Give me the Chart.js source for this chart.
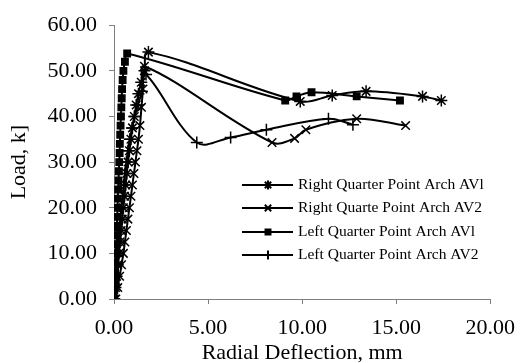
<!DOCTYPE html>
<html>
<head>
<meta charset="utf-8">
<script src="https://cdn.jsdelivr.net/npm/chart.js@4.4.1/dist/chart.umd.min.js"></script>
<style>
  html, body { margin: 0; padding: 0; background: #fff; }
  #wrap { width: 526px; height: 363px; }
</style>
</head>
<body>
<div id="wrap"><canvas id="myChart" width="526" height="363"></canvas></div>
<script>
// series (deflection mm, load kN)
const seriesNames = [
  "Right Quarter Point Arch AVl",
  "Right Quarte Point Arch AV2",
  "Left Quarter Point Arch AVl",
  "Left Quarter Point Arch AV2",
];

const rightAV1X = [0.02, 0.08, 0.14, 0.20, 0.26, 0.32, 0.38, 0.44, 0.50, 0.56, 0.62, 0.68, 0.75, 0.82, 0.90, 0.98, 1.08, 1.18, 1.30, 1.45, 1.62, 1.83, 9.90, 11.60, 13.40, 16.40, 17.40];
const rightAV1Y = [0, 2.5, 5, 7.5, 10, 12.5, 15, 17.5, 20, 22.5, 25, 27.5, 30, 32.5, 35, 37.5, 40, 42.5, 45, 47.5, 50, 54.1, 43.3, 44.6, 45.5, 44.4, 43.5];

const rightAV2X = [0.10, 0.20, 0.30, 0.40, 0.50, 0.58, 0.66, 0.74, 0.82, 0.90, 0.98, 1.06, 1.14, 1.22, 1.30, 1.38, 1.46, 1.54, 1.62, 8.40, 9.60, 10.20, 12.90, 15.50];
const rightAV2Y = [0, 2.5, 5, 7.5, 10, 12.5, 15, 17.5, 20, 22.5, 25, 27.5, 30, 32.5, 35, 38, 42, 46, 51.0, 34.3, 35.2, 37.1, 39.5, 38.0];

const leftAV1X = [0.00, 0.02, 0.04, 0.06, 0.08, 0.10, 0.12, 0.14, 0.15, 0.17, 0.19, 0.20, 0.22, 0.24, 0.26, 0.28, 0.30, 0.31, 0.33, 0.35, 0.37, 0.39, 0.41, 0.43, 0.46, 0.50, 0.58, 0.70, 9.10, 9.70, 10.50, 12.90, 15.20];
const leftAV1Y = [0, 2, 4, 6, 8, 10, 12, 14, 16, 18, 20, 22, 24, 26, 28, 30, 32, 34, 36, 38, 40, 42, 44, 46, 48, 50, 52, 53.8, 43.5, 44.4, 45.3, 44.4, 43.5];

const leftAV2X = [0.00, 0.04, 0.08, 0.12, 0.16, 0.22, 0.28, 0.34, 0.40, 0.46, 0.52, 0.58, 0.66, 0.74, 0.84, 0.96, 1.10, 1.28, 1.48, 1.70, 4.40, 6.20, 8.10, 11.40, 12.70];
const leftAV2Y = [0, 2.5, 5, 7.5, 10, 12.5, 15, 17.5, 20, 22.5, 25, 27.5, 30, 32.5, 35, 37.5, 40, 42.5, 45.5, 49.2, 34.3, 35.4, 37.1, 39.5, 38.2];

const xTickValues = [0, 5, 10, 15, 20];
const yTickValues = [0, 10, 20, 30, 40, 50, 60];

function toPoints(xs, ys) {
  return xs.map((x, i) => ({ x: x, y: ys[i] }));
}

const serif = "'Liberation Serif', 'DejaVu Serif', serif";

const styles = [
  { pointStyle: "star", pointRadius: 6 },
  { pointStyle: "crossRot", pointRadius: 6 },
  { pointStyle: "rect", pointRadius: 4.5 },
  { pointStyle: "cross", pointRadius: 6 },
];

const allX = [rightAV1X, rightAV2X, leftAV1X, leftAV2X];
const allY = [rightAV1Y, rightAV2Y, leftAV1Y, leftAV2Y];

const datasets = seriesNames.map((name, i) => ({
  label: name,
  data: toPoints(allX[i], allY[i]),
  borderColor: "#000",
  backgroundColor: "#000",
  borderWidth: 2,
  tension: 0.35,
  pointStyle: styles[i].pointStyle,
  pointRadius: styles[i].pointRadius,
  pointBorderWidth: 1.5,
  pointBorderColor: "#000",
  pointBackgroundColor: "#000",
}));

// legend drawn inside the plot, like the original
const insideLegend = {
  id: "insideLegend",
  afterDatasetsDraw(chart) {
    const ctx = chart.ctx;
    const rows = [185, 208, 232, 255];
    ctx.save();
    chart.data.datasets.forEach((ds, i) => {
      const y = rows[i];
      ctx.strokeStyle = "#000";
      ctx.lineWidth = 2;
      ctx.beginPath();
      ctx.moveTo(242, y);
      ctx.lineTo(293, y);
      ctx.stroke();
      Chart.helpers.drawPoint(ctx, {
        pointStyle: ds.pointStyle,
        radius: ds.pointStyle === "rect" ? 3.5 : 4.5,
        rotation: 0,
        borderWidth: 1.5,
      }, 268, y);
      ctx.fillStyle = "#000";
      ctx.font = "15.5px " + serif;
      ctx.textBaseline = "middle";
      ctx.fillText(ds.label, 298, y);
    });
    ctx.restore();
  },
};

const ctx = document.getElementById("myChart").getContext("2d");
new Chart(ctx, {
  type: "line",
  data: { datasets: datasets },
  options: {
    responsive: false,
    animation: false,
    layout: { padding: { top: 15, right: 3, left: 0, bottom: 0 } },
    plugins: { legend: { display: false }, tooltip: { enabled: false } },
    scales: {
      x: {
        type: "linear",
        min: 0,
        max: 20,
        afterBuildTicks(scale) {
          scale.ticks = xTickValues.map((v) => ({ value: v }));
        },
        afterFit(scale) { scale.height = 64; },
        ticks: {
          color: "#000",
          font: { family: serif, size: 22 },
          padding: 11,
          callback: (v) => Number(v).toFixed(2),
        },
        grid: { drawOnChartArea: false, color: "#808080", tickLength: 5 },
        border: { color: "#808080", width: 1 },
        title: {
          display: true,
          text: "Radial Deflection, mm",
          color: "#000",
          font: { family: serif, size: 22 },
          padding: { top: -6, bottom: -3 },
        },
      },
      y: {
        type: "linear",
        min: 0,
        max: 60,
        afterBuildTicks(scale) {
          scale.ticks = yTickValues.map((v) => ({ value: v }));
        },
        afterFit(scale) { scale.width = 114; },
        ticks: {
          color: "#000",
          font: { family: serif, size: 22 },
          padding: 12,
          callback: (v) => Number(v).toFixed(2),
        },
        grid: { drawOnChartArea: false, color: "#808080", tickLength: 5 },
        border: { color: "#808080", width: 1 },
        title: {
          display: true,
          text: "Load, k]",
          color: "#000",
          font: { family: serif, size: 22 },
          padding: { top: 6, bottom: 0 },
        },
      },
    },
  },
  plugins: [insideLegend],
});
</script>
</body>
</html>
